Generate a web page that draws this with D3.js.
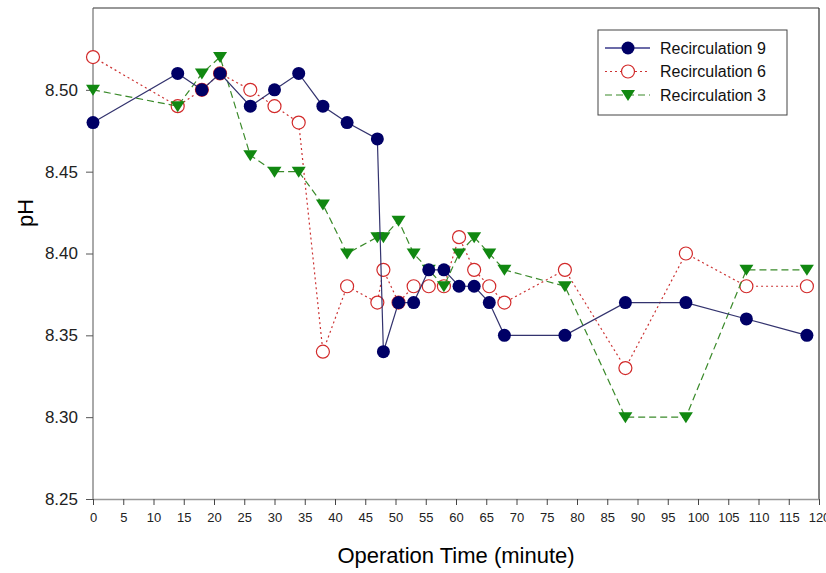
<!DOCTYPE html>
<html>
<head>
<meta charset="utf-8">
<script src="https://cdn.jsdelivr.net/npm/d3@7"></script>
<style>
  body { margin: 0; background: #fff; }
</style>
</head>
<body>
<div id="chart"></div>
<script>
// data
const times = [0, 14, 18, 21, 26, 30, 34, 38, 42, 47, 48, 50.5, 53, 55.5, 58, 60.5, 63, 65.5, 68, 78, 88, 98, 108, 118];
const recirc9 = [8.48, 8.51, 8.50, 8.51, 8.49, 8.50, 8.51, 8.49, 8.48, 8.47, 8.34, 8.37, 8.37, 8.39, 8.39, 8.38, 8.38, 8.37, 8.35, 8.35, 8.37, 8.37, 8.36, 8.35];
const recirc6 = [8.52, 8.49, 8.50, 8.51, 8.50, 8.49, 8.48, 8.34, 8.38, 8.37, 8.39, 8.37, 8.38, 8.38, 8.38, 8.41, 8.39, 8.38, 8.37, 8.39, 8.33, 8.40, 8.38, 8.38];
const recirc3 = [8.50, 8.49, 8.51, 8.52, 8.46, 8.45, 8.45, 8.43, 8.40, 8.41, 8.41, 8.42, 8.40, 8.39, 8.38, 8.40, 8.41, 8.40, 8.39, 8.38, 8.30, 8.30, 8.39, 8.39];
const seriesNames = ["Recirculation 9", "Recirculation 6", "Recirculation 3"];
const yTicks = [8.25, 8.30, 8.35, 8.40, 8.45, 8.50];
const xTicks = d3.range(0, 121, 5);

const width = 826, height = 573;
const narrow = "'Liberation Sans Narrow', 'Arial Narrow', sans-serif";
const sans = "'Liberation Sans', Arial, sans-serif";

const svg = d3.select("#chart")
  .append("svg")
  .attr("width", width)
  .attr("height", height);

const x = d3.scaleLinear().domain([0, 120]).range([93, 819]);
const y = d3.scaleLinear().domain([8.25, 8.55]).range([499, 8]);

// frame top and right
svg.append("line")
  .attr("x1", x(0)).attr("x2", x(120))
  .attr("y1", y(8.55)).attr("y2", y(8.55))
  .attr("stroke", "#333").attr("stroke-width", 1.2);
svg.append("line")
  .attr("x1", x(120)).attr("x2", x(120))
  .attr("y1", y(8.55)).attr("y2", y(8.25))
  .attr("stroke", "#333").attr("stroke-width", 1.2);

// axes
const yAxis = svg.append("g")
  .attr("transform", `translate(${x(0)},0)`)
  .call(d3.axisLeft(y).tickValues(yTicks).tickFormat(d3.format(".2f"))
    .tickSize(7).tickSizeOuter(0).tickPadding(8));
yAxis.select(".domain").attr("stroke", "#555").attr("d", `M0,${y(8.25)}V${y(8.55)}`);
yAxis.selectAll(".tick line").attr("stroke", "#555");
yAxis.selectAll("text")
  .style("font-family", narrow).style("font-size", "17px").attr("fill", "#222");

const xAxis = svg.append("g")
  .attr("transform", `translate(0,${y(8.25)})`)
  .call(d3.axisBottom(x).tickValues(xTicks).tickFormat(d3.format("d"))
    .tickSize(6).tickSizeOuter(0).tickPadding(8));
xAxis.select(".domain").attr("stroke", "#999").attr("stroke-width", 1.5);
xAxis.selectAll(".tick line").attr("stroke", "#444");
xAxis.selectAll("text")
  .style("font-family", narrow).style("font-size", "13px").attr("fill", "#222");

// axis titles
svg.append("text")
  .attr("x", 456).attr("y", 563)
  .attr("text-anchor", "middle")
  .style("font-family", sans).style("font-size", "22px")
  .text("Operation Time (minute)");
svg.append("text")
  .attr("transform", "translate(33,213) rotate(-90)")
  .attr("text-anchor", "middle")
  .style("font-family", sans).style("font-size", "22px")
  .text("pH");

// series styles
const styles = [
  { name: seriesNames[0], values: recirc9, line: "#33336e", legendLine: "#6b6ba8", dash: null, marker: "dot" },
  { name: seriesNames[1], values: recirc6, line: "#cc3333", legendLine: "#cc3333", dash: "2,3", marker: "ring" },
  { name: seriesNames[2], values: recirc3, line: "#3a8a2a", legendLine: "#3a8a2a", dash: "7,4", marker: "tri" }
];

const line = d3.line().x(d => x(d[0])).y(d => y(d[1]));

function drawMarker(g, kind) {
  if (kind === "dot") {
    g.append("circle").attr("r", 6.5).attr("fill", "#000066");
  } else if (kind === "ring") {
    g.append("circle").attr("r", 6.5).attr("fill", "#fff")
      .attr("stroke", "#d22a2a").attr("stroke-width", 1.2);
  } else {
    g.append("path").attr("d", "M-7,-5L7,-5L0,6Z").attr("fill", "#118811");
  }
}

// back to front: 6, 3, 9
[styles[1], styles[2], styles[0]].forEach(s => {
  const pts = times.map((t, i) => [t, s.values[i]]);
  svg.append("path")
    .datum(pts)
    .attr("d", line)
    .attr("fill", "none")
    .attr("stroke", s.line)
    .attr("stroke-width", 1.2)
    .attr("stroke-dasharray", s.dash);
  svg.selectAll(null)
    .data(pts)
    .join("g")
    .attr("transform", d => `translate(${x(d[0])},${y(d[1])})`)
    .each(function () { drawMarker(d3.select(this), s.marker); });
});

// legend
const legend = svg.append("g");
legend.append("rect")
  .attr("x", 598).attr("y", 30).attr("width", 189).attr("height", 85)
  .attr("fill", "#fff").attr("stroke", "#444").attr("stroke-width", 1);
styles.forEach((s, i) => {
  const ly = 48 + i * 23.5;
  legend.append("line")
    .attr("x1", 605).attr("x2", 650).attr("y1", ly).attr("y2", ly)
    .attr("stroke", s.legendLine).attr("stroke-width", s.dash ? 1.2 : 1.8)
    .attr("stroke-dasharray", s.dash);
  const m = legend.append("g").attr("transform", `translate(628,${ly})`);
  drawMarker(m, s.marker);
  legend.append("text")
    .attr("x", 660).attr("y", ly).attr("dy", "0.35em")
    .style("font-family", sans).style("font-size", "16px")
    .attr("fill", "#111")
    .text(s.name);
});
</script>
</body>
</html>
